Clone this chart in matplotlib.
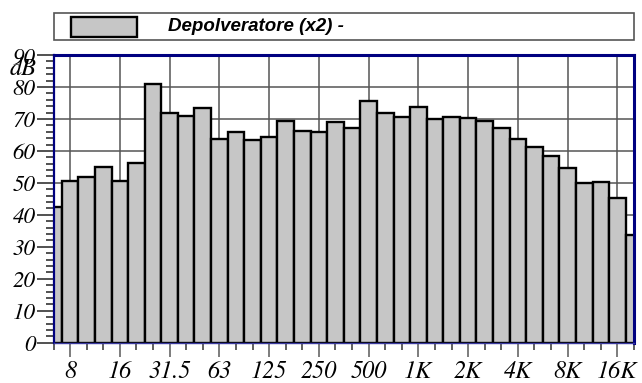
import matplotlib
matplotlib.use("Agg")
import matplotlib.pyplot as plt
from matplotlib.patches import Rectangle
from matplotlib.ticker import FixedLocator, MultipleLocator

# Third-octave band centres (Hz) and levels (dB)
bands = ["6.3", "8", "10", "12.5", "16", "20", "25", "31.5", "40", "50",
         "63", "80", "100", "125", "160", "200", "250", "315", "400", "500",
         "630", "800", "1K", "1.25K", "1.6K", "2K", "2.5K", "3.15K", "4K", "5K",
         "6.3K", "8K", "10K", "12.5K", "16K", "20K"]
levels = [42.4, 50.6, 51.9, 55.0, 50.5, 56.3, 80.8, 71.8, 70.9, 73.4,
          63.7, 66.0, 63.4, 64.4, 69.4, 66.2, 65.8, 68.9, 67.3, 75.5,
          71.7, 70.6, 73.8, 69.9, 70.7, 70.2, 69.4, 67.1, 63.7, 61.2,
          58.3, 54.6, 49.9, 50.3, 45.4, 33.7]
octave_labels = ["8", "16", "31.5", "63", "125", "250", "500", "1K", "2K", "4K", "8K", "16K"]
y_ticks = [0, 10, 20, 30, 40, 50, 60, 70, 80, 90]
legend_label = "Depolveratore (x2) -"
unit_label = "dB"

plt.rcParams["font.family"] = ["STIXGeneral", "DejaVu Serif"]
plt.rcParams["font.style"] = "italic"
FSX = 17.5
FSY = 16.5

W, H = 642, 383
fig = plt.figure(figsize=(W / 100, H / 100), dpi=100)
L, R, T, B = 53.5, 634, 55, 342.7
ax = fig.add_axes([L / W, (H - B) / H, (R - L) / W, (B - T) / H])

x = list(range(len(bands)))
bar_face = "#c6c6c6"
ax.bar(x, levels, width=1.0, align="center", color=bar_face,
       edgecolor="black", linewidth=1.7, zorder=2)

ax.set_xlim(0, len(bands) - 1)
ax.set_ylim(y_ticks[0], y_ticks[-1])

major_x = [bands.index(b) for b in octave_labels]
ax.set_xticks(major_x, labels=octave_labels, fontsize=FSX, fontstyle="italic")
ax.xaxis.set_minor_locator(FixedLocator([i for i in x if i not in major_x]))
ax.set_yticks(y_ticks, labels=[str(v) for v in y_ticks], fontsize=FSY, fontstyle="italic")
ax.yaxis.set_minor_locator(MultipleLocator(2))

ax.tick_params(axis="x", which="major", length=10, width=1.2, color="#666666", pad=2.5)
ax.tick_params(axis="x", which="minor", length=5, width=1.2, color="#444444")
ax.tick_params(axis="y", which="major", length=12.5, width=1.2, color="#333333", pad=0.3)
ax.tick_params(axis="y", which="minor", length=5.5, width=1.2, color="#333333")

ax.set_axisbelow(True)
ax.grid(which="major", color="#555555", linewidth=1.1)

for side, lw in [("left", 1.6), ("top", 2.2), ("right", 2.2), ("bottom", 1.0)]:
    ax.spines[side].set_color("#000080")
    ax.spines[side].set_linewidth(lw)
ax.spines["bottom"].set_color("#3a3aa0")

fig.text(37 / W, (H - 69) / H, unit_label, ha="right", va="center",
         fontsize=FSY + 1, fontstyle="italic")

# Legend box
fig.patches.append(Rectangle((54.3 / W, (H - 40) / H), (634 - 54.3) / W, 26.7 / H,
                             transform=fig.transFigure, facecolor="white",
                             edgecolor="#555555", linewidth=1.2))
fig.patches.append(Rectangle((71 / W, (H - 37.3) / H), 66.3 / W, 20.6 / H,
                             transform=fig.transFigure, facecolor=bar_face,
                             edgecolor="black", linewidth=1.7))
fig.text(167.7 / W, (H - 26.7) / H, legend_label, ha="left", va="center",
         family="Liberation Sans", weight="bold", style="italic", size=13.5)

fig.savefig("out.png", dpi=100)
